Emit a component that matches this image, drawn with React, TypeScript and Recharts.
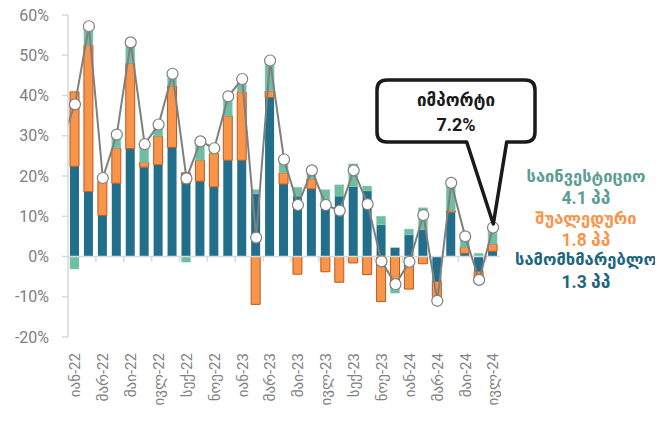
import React from "react";
import { ComposedChart, Bar, Line, XAxis, YAxis, ReferenceLine } from "recharts";

// Dec-21 only carries the line (its first segment is cut by the plot edge)
const months = [
  "დეკ-21",
  "იან-22", "თებ-22", "მარ-22", "აპრ-22", "მაი-22", "ივნ-22", "ივლ-22", "აგვ-22", "სექ-22", "ოქტ-22", "ნოე-22", "დეკ-22",
  "იან-23", "თებ-23", "მარ-23", "აპრ-23", "მაი-23", "ივნ-23", "ივლ-23", "აგვ-23", "სექ-23", "ოქტ-23", "ნოე-23", "დეკ-23",
  "იან-24", "თებ-24", "მარ-24", "აპრ-24", "მაი-24", "ივნ-24", "ივლ-24",
];

// სამომხმარებლო
const consumer = [
  null,
  22.4, 16.1, 10.2, 18.2, 26.8, 22.2, 22.8, 27.1, 18.1, 18.7, 17.3, 23.9,
  23.9, 15.6, 39.5, 18.0, 15.0, 16.8, 13.4, 15.0, 17.4, 16.3, 7.9, 2.2,
  5.4, 6.7, -6.2, 11.0, 0.8, -3.7, 1.3,
];
// შუალედური
const intermediate = [
  null,
  18.5, 36.4, 8.5, 8.7, 21.2, 1.2, 7.1, 15.3, 2.7, 5.2, 8.3, 11.0,
  17.0, -11.9, 1.6, 2.8, -4.4, 2.5, -3.8, -6.4, -1.6, -4.5, -11.2, -7.9,
  -8.1, -1.8, -3.8, 0.4, 1.5, -2.9, 1.8,
];
// საინვესტიციო
const investment = [
  null,
  -3.1, 4.7, 0.8, 3.4, 5.2, 4.5, 2.9, 3.0, -1.4, 4.7, 1.3, 4.9,
  3.2, 1.0, 7.6, 3.3, 2.2, 2.1, 3.2, 2.8, 5.6, 1.2, 2.1, -1.2,
  1.4, 5.4, -1.0, 6.9, 2.7, 0.8, 4.1,
];
// იმპორტი
const imports = [
  28.1,
  37.8, 57.2, 19.5, 30.3, 53.2, 27.9, 32.8, 45.4, 19.4, 28.6, 26.9, 39.8,
  44.1, 4.7, 48.7, 24.1, 12.8, 21.4, 12.8, 11.4, 21.4, 13.0, -1.2, -6.9,
  -1.3, 10.3, -11.0, 18.3, 5.0, -5.8, 7.2,
];

const yTicks = [-20, -10, 0, 10, 20, 30, 40, 50, 60];
const xTicks = months.map((_, i) => i).filter((i) => i % 2 === 1);
const boundaryTicks = months.map((_, i) => i + 0.5).filter((v) => v > 1 && v < 31 && (v - 0.5) % 2 === 0);

const data = months.map((m, i) => ({
  idx: i,
  month: m,
  consumer: consumer[i],
  intermediate: intermediate[i],
  investment: investment[i],
  imports: imports[i],
}));

const BLUE = "#216f8a";
const ORANGE = "#f7964a";
const GREEN = "#6fbea3";
const GRAY = "#7f7f7f";
const AXIS = "#d9d9d9";
const FONT = "Roboto, 'DejaVu Sans', sans-serif";

function MonthTick(props: any) {
  const { x, y, payload } = props;
  const label = months[payload.value] ?? "";
  const ty = y + 14;
  return (
    <text
      x={x}
      y={ty}
      transform={`rotate(-90 ${x} ${ty})`}
      textAnchor="end"
      dy="0.36em"
      fill="#808080"
      fontSize={15}
      fontFamily={FONT}
    >
      {label}
    </text>
  );
}

export default function App() {
  return (
    <div style={{ position: "relative", width: 655, height: 419, marginTop: -8, fontFamily: FONT }}>
      <ComposedChart
        width={655}
        height={419}
        data={data}
        stackOffset="sign"
        margin={{ top: 15, right: 163, bottom: 0, left: 0 }}
      >
        <XAxis
          type="number"
          dataKey="idx"
          domain={[0.5, 31.5]}
          allowDataOverflow
          ticks={xTicks}
          interval={0}
          tick={<MonthTick />}
          tickSize={0}
          axisLine={false}
          tickLine={false}
          height={82}
        />
        <YAxis
          type="number"
          domain={[-20, 60]}
          ticks={yTicks}
          interval={0}
          tickFormatter={(v: number) => `${v}%`}
          width={60}
          tickSize={6}
          tickMargin={13}
          axisLine={{ stroke: AXIS, strokeWidth: 1.5 }}
          tickLine={{ stroke: AXIS, strokeWidth: 1.5 }}
          tick={{ fill: "#808080", fontSize: 16, fontFamily: FONT }}
        />
        <ReferenceLine y={0} stroke={AXIS} strokeWidth={1.5} />
        {boundaryTicks.map((b) => (
          <ReferenceLine
            key={b}
            segment={[
              { x: b, y: 0 },
              { x: b, y: -1.3 },
            ]}
            stroke={AXIS}
            strokeWidth={1.5}
          />
        ))}
        <Bar dataKey="consumer" stackId="a" fill={BLUE} barSize={9} isAnimationActive={false} />
        <Bar
          dataKey="intermediate"
          stackId="a"
          fill={ORANGE}
          stroke="#c0581f"
          strokeWidth={1}
          barSize={9}
          isAnimationActive={false}
        />
        <Bar
          dataKey="investment"
          stackId="a"
          fill={GREEN}
          stroke="#8fcab6"
          strokeWidth={0.5}
          barSize={9}
          isAnimationActive={false}
        />
        <Line
          dataKey="imports"
          stroke={GRAY}
          strokeWidth={2}
          dot={{ r: 5.5, fill: "#ffffff", stroke: GRAY, strokeWidth: 1.2 }}
          activeDot={false}
          isAnimationActive={false}
        />
      </ComposedChart>
      <svg
        width={655}
        height={419}
        style={{ position: "absolute", left: 0, top: 0, pointerEvents: "none", overflow: "visible" }}
      >
        <path
          d="M 379 80 H 517 Q 527 80 527 90 V 132 Q 527 142 517 142 H 498.7 L 485.3 224 L 458.7 142 H 379 Q 369 142 369 132 V 90 Q 369 80 379 80 Z"
          fill="#ffffff"
          stroke="#1a1a1a"
          strokeWidth={3.5}
          strokeLinejoin="round"
        />
        <text x={448} y={106} textAnchor="middle" fontSize={17} fontWeight="bold" fill="#1a1a1a" fontFamily={FONT}>
          იმპორტი
        </text>
        <text x={448} y={131} textAnchor="middle" fontSize={18} fontWeight="bold" fill="#1a1a1a" fontFamily={FONT}>
          7.2%
        </text>
        <g textAnchor="middle" fontWeight="bold" fontFamily={FONT}>
          <text x={578} y={182} fontSize={16.5} fill="#5c9e93">საინვესტიციო</text>
          <text x={578} y={204} fontSize={17.5} fill="#5c9e93">4.1 პპ</text>
          <text x={578} y={224} fontSize={16.5} fill={ORANGE}>შუალედური</text>
          <text x={578} y={246} fontSize={17.5} fill={ORANGE}>1.8 პპ</text>
          <text x={578} y={265} fontSize={16.5} fill="#1e6580">სამომხმარებლო</text>
          <text x={578} y={288} fontSize={17.5} fill="#1e6580">1.3 პპ</text>
        </g>
      </svg>
    </div>
  );
}
